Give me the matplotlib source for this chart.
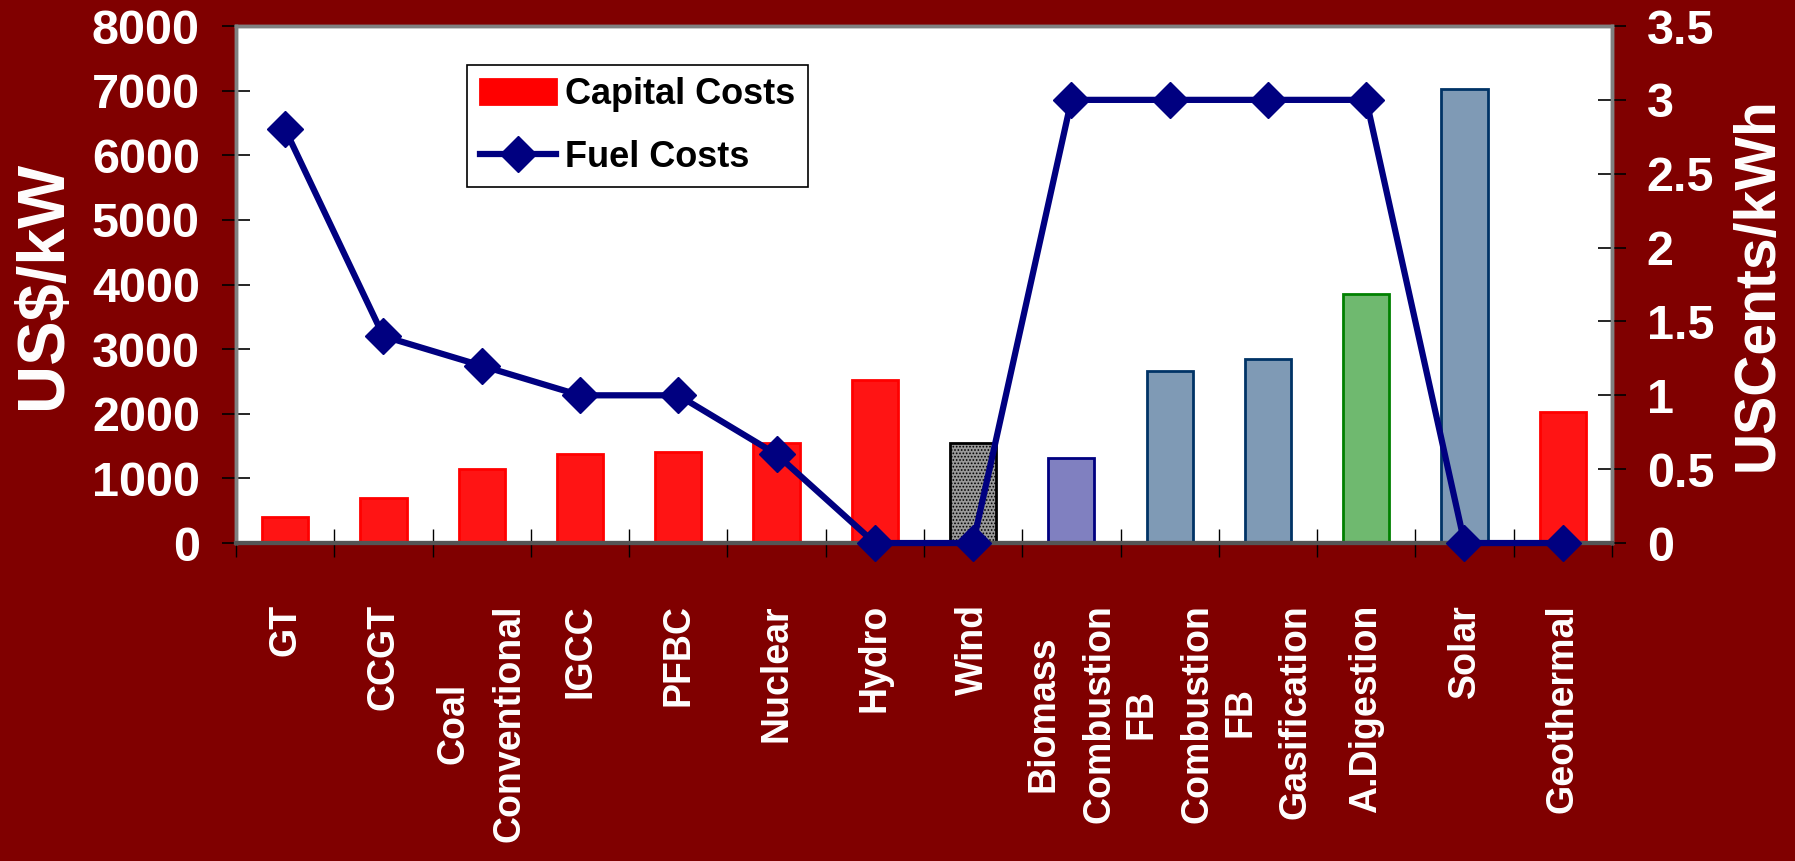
import numpy as np
import matplotlib
matplotlib.use("Agg")
import matplotlib.pyplot as plt
from matplotlib.ticker import FuncFormatter, MultipleLocator

# ---- data ----
technologies = ["GT", "CCGT", "Coal\nConventional", "IGCC", "PFBC", "Nuclear",
                "Hydro", "Wind", "Biomass\nCombustion", "FB\nCombustion",
                "FB\nGasification", "A.Digestion", "Solar", "Geothermal"]
capital_costs = [410, 690, 1140, 1370, 1410, 1550, 2520, 1550, 1320, 2660,
                 2850, 3850, 7020, 2020]          # US$/kW
fuel_costs = [2.8, 1.4, 1.2, 1.0, 1.0, 0.6, 0.0, 0.0, 3.0, 3.0, 3.0, 3.0,
              0.0, 0.0]                            # USCents/kWh

# ---- styles ----
RED = "#ff1414"
bar_faces = [RED] * 7 + ["#9a9a9a", "#8080c0", "#7f9ab5", "#7f9ab5",
                         "#6fb96f", "#7f9ab5", RED]
bar_edges = ["#ff0000"] * 7 + ["#000000", "#000080", "#003366", "#003366",
                               "#008000", "#003366", "#ff0000"]
bar_hatch = [None] * 7 + ["....."] + [None] * 6
BG = "#800000"
NAVY = "#000080"

plt.rcParams["font.family"] = ["Liberation Sans", "DejaVu Sans"]
plt.rcParams["font.weight"] = "bold"
plt.rcParams["hatch.linewidth"] = 0.8

fig = plt.figure(figsize=(17.95, 8.61), dpi=100, facecolor=BG)
ax = fig.add_axes([0.1315, 0.3693, 0.7665, 0.6005])
ax.set_facecolor("white")

x = np.arange(len(technologies))
bars = ax.bar(x, capital_costs, width=0.47, color=bar_faces,
              edgecolor=bar_edges, linewidth=2, zorder=2)
for b, h in zip(bars, bar_hatch):
    if h:
        b.set_hatch(h)

ax.set_xlim(-0.5, len(technologies) - 0.5)
ax.set_ylim(0, 8000)
ax.yaxis.set_major_locator(MultipleLocator(1000))
ax.set_xticks(x)
ax.set_xticklabels(technologies, rotation=90, color="white", fontsize=27,
                   fontweight="bold", multialignment="center", linespacing=1.7)
ax.set_xticks(np.arange(-0.5, len(technologies)), minor=True)
ax.tick_params(axis="x", which="major", length=0, pad=44)
ax.tick_params(axis="x", which="minor", direction="inout", length=20,
               width=1, color="black")
ax.tick_params(axis="y", direction="inout", length=20, width=1.2,
               color="black", labelcolor="white", labelsize=35, pad=16)
for lab in ax.get_yticklabels():
    lab.set_fontweight("bold")
ax.set_ylabel("US$/kW", color="white", fontsize=48, fontweight="bold",
              labelpad=12)

ax2 = ax.twinx()
line, = ax2.plot(x, fuel_costs, color=NAVY, lw=4.5, marker="D", ms=18,
                 mfc=NAVY, mec=NAVY, clip_on=False, zorder=5)
ax2.set_ylim(0, 3.5)
ax2.yaxis.set_major_locator(MultipleLocator(0.5))
ax2.yaxis.set_major_formatter(FuncFormatter(lambda v, p: f"{v:g}"))
ax2.tick_params(axis="y", direction="inout", length=20, width=1.2,
                color="black", labelcolor="white", labelsize=35, pad=15)
for lab in ax2.get_yticklabels():
    lab.set_fontweight("bold")
ax2.set_ylabel("USCents/kWh", color="white", fontsize=41, fontweight="bold",
               labelpad=12)

for a in (ax, ax2):
    for side in ("top", "left", "right"):
        a.spines[side].set_color("#808080")
        a.spines[side].set_linewidth(2.5)
    a.spines["bottom"].set_color("#555555")
    a.spines["bottom"].set_linewidth(3)

leg = ax2.legend([bars[0], line], ["Capital Costs", "Fuel Costs"],
                 loc="upper left", bbox_to_anchor=(0.168, 0.925),
                 fontsize=26, frameon=True, fancybox=False, framealpha=1,
                 edgecolor="black", handlelength=2.1, handletextpad=0.25,
                 labelspacing=0.75, borderpad=0.35, borderaxespad=0)
leg.get_frame().set_linewidth(1.2)
for t in leg.get_texts():
    t.set_fontweight("bold")
leg.legend_handles[0].set_hatch(None)
leg.legend_handles[0].set_facecolor("#ff0000")

fig.savefig("out.png", dpi=100, facecolor=BG)
